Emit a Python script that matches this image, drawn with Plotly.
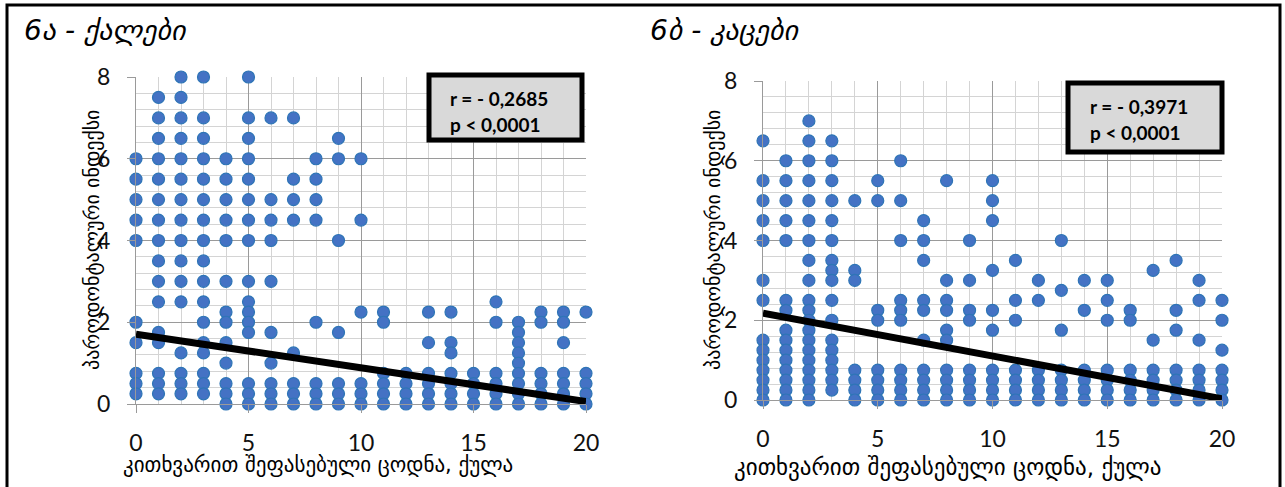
import plotly.graph_objects as go

W, H = 1285, 487

# ---------------- data ----------------
scores = list(range(21))
tick_vals_x = [0, 5, 10, 15, 20]
tick_vals_y = [0, 2, 4, 6, 8]

women_y = [
    [6, 5.5, 5, 4.5, 4, 2, 1.5, 0.75, 0.5, 0.25],
    [7.5, 7, 6.5, 6, 5.5, 5, 4.5, 4, 3.5, 3, 2.5, 1.75, 1.5, 0.75, 0.5, 0.25],
    [8, 7.5, 7, 6.5, 6, 5.5, 5, 4.5, 4, 3.5, 3, 2.5, 1.25, 0.75, 0.5, 0.25],
    [8, 7, 6.5, 6, 5.5, 5, 4.5, 4, 3.5, 3, 2.5, 2, 1.5, 1.25, 0.75, 0.5, 0.25],
    [6, 5.5, 5, 4.5, 4, 3, 2.25, 2, 1.5, 1, 0.5, 0.25, 0],
    [8, 7, 6.5, 6, 5.5, 5, 4.5, 4, 3, 2.5, 2.25, 2, 1.75, 0.5, 0.25, 0],
    [7, 5, 4.5, 4, 3, 1.75, 1, 0.5, 0.25, 0],
    [7, 5.5, 5, 4.5, 1.25, 0.5, 0.25, 0],
    [6, 5.5, 5, 4.5, 2, 0.5, 0.25, 0],
    [6.5, 6, 4, 1.75, 0.5, 0.25, 0],
    [6, 4.5, 2.25, 0.5, 0.25, 0],
    [2.25, 2, 0.75, 0.5, 0.25, 0],
    [0.75, 0.5, 0.25, 0],
    [2.25, 1.5, 0.75, 0.5, 0.25, 0],
    [2.25, 1.5, 1.25, 0.75, 0.5, 0.25, 0],
    [0.75, 0.5, 0.25, 0],
    [2.5, 2, 0.75, 0.5, 0.25, 0],
    [2, 1.75, 1.5, 1.25, 1, 0.75, 0.5, 0.25, 0],
    [2.25, 2, 0.75, 0.5, 0.25, 0],
    [2.25, 2, 1.5, 0.75, 0.5, 0.25, 0],
    [2.25, 0.75, 0.5, 0.25, 0],
]

men_y = [
    [6.5, 5.5, 5, 4.5, 4, 3, 2.5, 1.5, 1.25, 1, 0.75, 0.5, 0.25, 0],
    [6, 5.5, 5, 4.5, 4, 2.5, 2.25, 1.75, 1.5, 1.25, 1, 0.75, 0.5, 0.25, 0],
    [7, 6.5, 6, 5.5, 5, 4.5, 4, 3.5, 3, 2.5, 2.25, 2, 1.75, 1.5, 1.25, 1, 0.75, 0.5, 0.25, 0],
    [6.5, 6, 5.5, 5, 4.5, 4, 3.5, 3.25, 3, 2.5, 2, 1.5, 1.25, 1, 0.75, 0.5, 0.25],
    [5, 3.25, 3, 0.75, 0.5, 0.25, 0],
    [5.5, 5, 2.25, 2, 0.75, 0.5, 0.25, 0],
    [6, 5, 4, 2.5, 2.25, 2, 0.75, 0.5, 0.25, 0],
    [4.5, 4, 3.5, 2.5, 2.25, 1.5, 0.75, 0.5, 0.25, 0],
    [5.5, 3, 2.5, 2.25, 1.75, 1.5, 0.75, 0.5, 0.25, 0],
    [4, 3, 2.25, 2, 0.75, 0.5, 0.25, 0],
    [5.5, 5, 4.5, 3.25, 2.25, 1.75, 0.75, 0.5, 0.25, 0],
    [3.5, 2.5, 2, 0.75, 0.5, 0.25, 0],
    [3, 2.5, 0.75, 0.5, 0.25, 0],
    [4, 2.75, 1.75, 0.75, 0.5, 0.25, 0],
    [3, 2.25, 0.75, 0.5, 0.25, 0],
    [3, 2.5, 2, 0.75, 0.5, 0.25, 0],
    [2.25, 2, 0.75, 0.5, 0.25, 0],
    [3.25, 1.5, 0.75, 0.5, 0.25, 0],
    [3.5, 2.25, 1.75, 0.75, 0.5, 0.25, 0],
    [3, 2.5, 1.5, 0.75, 0.5, 0.25, 0],
    [2.5, 2, 1.25, 0.75, 0.5, 0.25, 0],
]

trend_x = [0, 20]
women_trend_y = [1.71, 0.06]
men_trend_y = [2.18, 0.03]

title_women = "6ა - ქალები"
title_men = "6ბ - კაცები"
y_title = "პაროდონტალური ინდექსი"
x_title = "კითხვარით შეფასებული ცოდნა, ქულა"
stats_women = ["r = - 0,2685", "p < 0,0001"]
stats_men = ["r = - 0,3971", "p < 0,0001"]

# ---------------- helpers ----------------
def px(x):
    return x / W

def py(y):
    return 1 - y / H

GEO = "DejaVu Sans"
NUM = "Lato, Open Sans, sans-serif"
MARK = "#4472c4"
MARK_LINE = "#2e75b6"
MAJOR = "#9a9a9a"
MINOR = "#d4d4d4"

fig = go.Figure()

def flatten(ylists):
    xs, ys = [], []
    for s, lst in zip(scores, ylists):
        for v in lst:
            xs.append(s)
            ys.append(v)
    return xs, ys

for ylists, trend_y, xa, ya in [(women_y, women_trend_y, "x", "y"), (men_y, men_trend_y, "x2", "y2")]:
    xs, ys = flatten(ylists)
    fig.add_trace(go.Scatter(
        x=xs, y=ys, mode="markers", xaxis=xa, yaxis=ya, cliponaxis=False,
        marker=dict(size=12, color=MARK, line=dict(color=MARK_LINE, width=1.2)),
        showlegend=False, hoverinfo="skip"))
    fig.add_trace(go.Scatter(
        x=trend_x, y=trend_y, mode="lines", xaxis=xa, yaxis=ya, cliponaxis=False,
        line=dict(color="black", width=7), showlegend=False, hoverinfo="skip"))

def xaxis_cfg(domain, anchor):
    return dict(
        domain=domain, range=[0, 20], tickvals=tick_vals_x, showgrid=True, gridcolor=MAJOR,
        gridwidth=1, zeroline=False, showline=True, linecolor=MAJOR, linewidth=1,
        ticks="outside", ticklen=8, tickcolor=MAJOR, ticklabelstandoff=10,
        tickfont=dict(family=NUM, size=23, color="#111"), anchor=anchor, automargin=False,
        minor=dict(dtick=1, tick0=0, showgrid=True, gridcolor=MINOR, gridwidth=1, ticks=""),
        fixedrange=True)

def yaxis_cfg(domain, anchor):
    return dict(
        domain=domain, range=[0, 8], tickvals=tick_vals_y, showgrid=True, gridcolor=MAJOR,
        gridwidth=1, zeroline=False, showline=True, linecolor=MAJOR, linewidth=1,
        ticks="outside", ticklen=8, tickcolor=MAJOR, ticklabelstandoff=12,
        tickfont=dict(family=NUM, size=23, color="#111"), anchor=anchor, automargin=False,
        minor=dict(dtick=0.4, tick0=0, showgrid=True, gridcolor=MINOR, gridwidth=1, ticks=""),
        fixedrange=True)

fig.update_layout(
    width=W, height=H, margin=dict(l=0, r=0, t=0, b=0, autoexpand=False),
    paper_bgcolor="white", plot_bgcolor="white",
    xaxis=xaxis_cfg([px(136), px(586)], "y"),
    yaxis=yaxis_cfg([py(404), py(77)], "x"),
    xaxis2=xaxis_cfg([px(763), px(1222)], "y2"),
    yaxis2=yaxis_cfg([py(400), py(81)], "x2"),
)

shapes = []
# outer frame
shapes.append(dict(type="rect", xref="paper", yref="paper",
                   x0=px(7), x1=px(1280), y0=py(500), y1=py(5),
                   line=dict(color="black", width=3), fillcolor="rgba(0,0,0,0)", layer="above"))
# stats boxes
for (x0, x1, y0, y1) in [(429, 582, 75, 140), (1068, 1222, 83, 152)]:
    shapes.append(dict(type="rect", xref="paper", yref="paper",
                       x0=px(x0), x1=px(x1), y0=py(y1), y1=py(y0),
                       line=dict(color="black", width=5), fillcolor="#d9d9d9", layer="above"))
fig.update_layout(shapes=shapes)

ann = []
def text(t, x, y, size, family, xanchor="left", angle=0, bold=False, italic=False, color="black"):
    ann.append(dict(text=(f"<b>{t}</b>" if bold else t), x=px(x), y=py(y), xref="paper", yref="paper",
                    xanchor=xanchor, yanchor="middle", showarrow=False, textangle=angle,
                    font=dict(family=family, size=size, color=color,
                              style=("italic" if italic else "normal"))))

text(title_women, 22, 30, 28, GEO, italic=True)
text(title_men, 648, 30, 28, GEO, italic=True)
text(stats_women[0], 448, 99, 19, NUM, bold=True)
text(stats_women[1], 448, 125, 19, NUM, bold=True)
text(stats_men[0], 1088, 107, 19, NUM, bold=True)
text(stats_men[1], 1088, 132, 19, NUM, bold=True)
text(y_title, 92, 240, 20, GEO, xanchor="center", angle=-90)
text(y_title, 713, 240, 20, GEO, xanchor="center", angle=-90)
text(x_title, 318, 465, 21, GEO, xanchor="center")
text(x_title, 947, 467, 23, GEO, xanchor="center")
fig.update_layout(annotations=ann)

fig.write_html(
    "out.html",
    config={"displayModeBar": False},
    post_script="document.body.style.margin='0';document.body.style.overflow='hidden';",
)
